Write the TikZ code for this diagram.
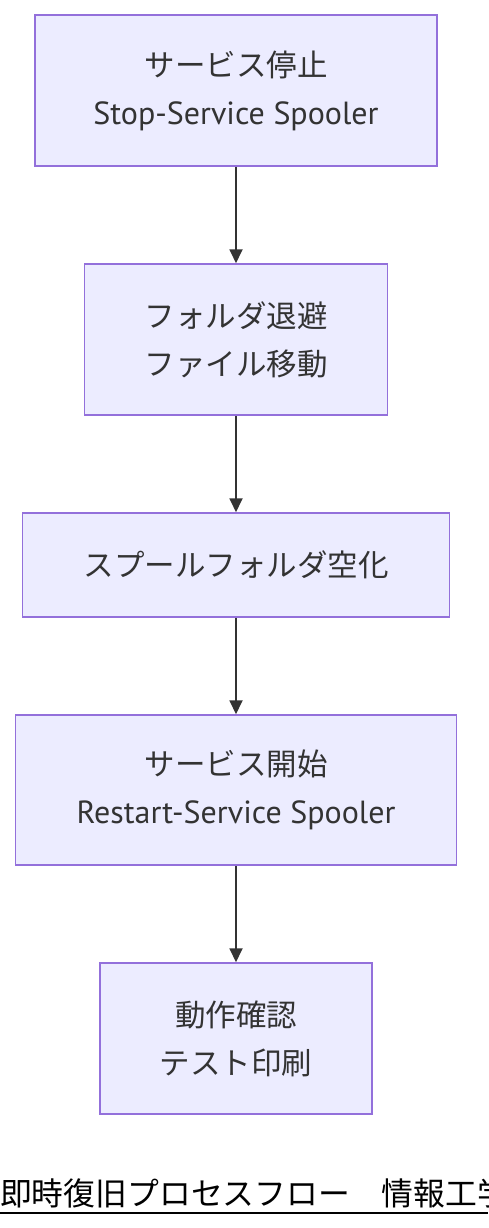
\documentclass[tikz,border=0pt]{standalone}
\usepackage{fontspec}
\setmainfont{PT Sans}
\newfontfamily\jp{Noto Sans CJK JP}
\usetikzlibrary{arrows.meta}
\definecolor{nodefill}{HTML}{ECECFF}
\definecolor{nodeborder}{HTML}{9370DB}
\definecolor{txt}{HTML}{333333}
\newcommand{\jpl}[1]{{\jp\fontsize{30.5}{48}\selectfont #1}}
\tikzset{
  stepbox/.style={draw=nodeborder, fill=nodefill, line width=1.5pt, text=txt,
    align=center, font=\fontsize{32}{48}\selectfont, inner sep=0pt},
  link/.style={draw=txt, line width=1.8pt, -{Triangle[length=14pt,width=13pt]}},
}
\begin{document}
\begin{tikzpicture}[x=1pt,y=-1pt]
\useasboundingbox (0,0) rectangle (488,1228);
\clip (0,0) rectangle (488,1228);
\node[stepbox, minimum width=402pt, minimum height=151pt] (n1) at (236,90.5)
  {\jpl{サービス停止}\\Stop-Service Spooler};
\node[stepbox, minimum width=303pt, minimum height=151pt] (n2) at (236,339.5)
  {\jpl{フォルダ退避}\\\jpl{ファイル移動}};
\node[stepbox, minimum width=427pt, minimum height=104pt] (n3) at (236,565)
  {\jpl{スプールフォルダ空化}};
\node[stepbox, minimum width=441pt, minimum height=150pt] (n4) at (236,790)
  {\jpl{サービス開始}\\Restart-Service Spooler};
\node[stepbox, minimum width=272pt, minimum height=151pt] (n5) at (236,1038.5)
  {\jpl{動作確認}\\\jpl{テスト印刷}};
\draw[link] (n1) -- (n2);
\draw[link] (n2) -- (n3);
\draw[link] (n3) -- (n4);
\draw[link] (n4) -- (n5);
\node[anchor=base west, inner sep=0pt, font=\jp\fontsize{31.8}{32}\selectfont] (title) at (0,1205)
  {即時復旧プロセスフロー　情報工学};
\coordinate (ul1) at (0,1213);
\coordinate (ul2) at (488,1213);
\draw[line width=2pt] (ul1) -- (ul2);
\end{tikzpicture}
\end{document}
